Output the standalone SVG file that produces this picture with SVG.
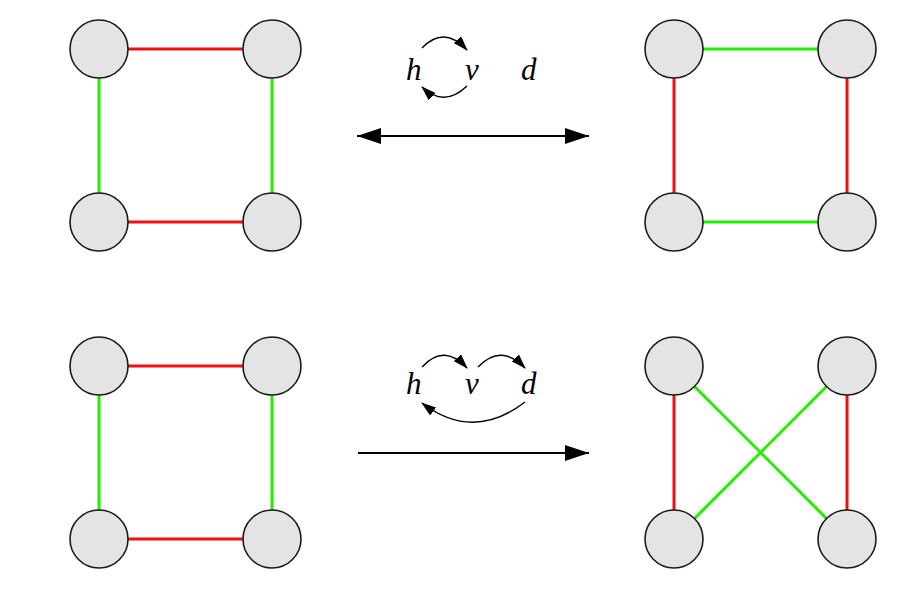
<svg xmlns="http://www.w3.org/2000/svg" width="920" height="596" viewBox="0 0 920 596">
<style>
.n{fill:#e4e4e4;stroke:#1a1a1a;stroke-width:1.6}
.r{stroke:#f01010;stroke-width:3;fill:none}
.g{stroke:#22ee00;stroke-width:3;fill:none}
.big{stroke:#000;stroke-width:2.2;fill:none}
.arc{stroke:#000;stroke-width:1.4;fill:none}
.t{font-family:"Liberation Serif",serif;font-style:italic;font-size:31px;fill:#000}
</style>
<defs>
<marker id="ah" markerUnits="userSpaceOnUse" markerWidth="24" markerHeight="16" refX="24" refY="8" orient="auto-start-reverse"><path d="M0,0 L24,8 L0,16 z" fill="#000"/></marker>
<marker id="sa" markerUnits="userSpaceOnUse" markerWidth="15" markerHeight="10" refX="14" refY="5" orient="auto"><path d="M0,0 L15,5 L0,10 z" fill="#000"/></marker>
</defs>
<rect width="920" height="596" fill="#fff"/>
<g id="connectors">
<line class="r" x1="99" y1="49" x2="272" y2="49"/>
<line class="r" x1="99" y1="222" x2="272" y2="222"/>
<line class="g" x1="99" y1="49" x2="99" y2="222"/>
<line class="g" x1="272" y1="49" x2="272" y2="222"/>
<line class="g" x1="674" y1="49" x2="847" y2="49"/>
<line class="g" x1="674" y1="222" x2="847" y2="222"/>
<line class="r" x1="674" y1="49" x2="674" y2="222"/>
<line class="r" x1="847" y1="49" x2="847" y2="222"/>
<line class="r" x1="99" y1="366" x2="272" y2="366"/>
<line class="r" x1="99" y1="539" x2="272" y2="539"/>
<line class="g" x1="99" y1="366" x2="99" y2="539"/>
<line class="g" x1="272" y1="366" x2="272" y2="539"/>
<line class="r" x1="674" y1="366" x2="674" y2="539"/>
<line class="r" x1="847" y1="366" x2="847" y2="539"/>
<line class="g" x1="674" y1="366" x2="847" y2="539"/>
<line class="g" x1="847" y1="366" x2="674" y2="539"/>
<line class="big" x1="357" y1="136" x2="589" y2="136" marker-start="url(#ah)" marker-end="url(#ah)"/>
<line class="big" x1="358" y1="453" x2="589" y2="453" marker-end="url(#ah)"/>
<path class="arc" d="M422 48 Q444 25 467 50" marker-end="url(#sa)"/>
<path class="arc" d="M467 86 Q444 108 422 87" marker-end="url(#sa)"/>
<path class="arc" d="M422 367 Q444 343 467 368" marker-end="url(#sa)"/>
<path class="arc" d="M478 367 Q501 343 525 368" marker-end="url(#sa)"/>
<path class="arc" d="M525 402 Q473 442 422 403" marker-end="url(#sa)"/>
</g>
<g id="labels">
<text class="t" x="406" y="80">h</text>
<text class="t" x="465" y="80">v</text>
<text class="t" x="521" y="80">d</text>
<text class="t" x="406" y="394">h</text>
<text class="t" x="465" y="394">v</text>
<text class="t" x="521" y="394">d</text>
</g>
<g id="n1"><circle class="n" cx="99" cy="49" r="29"/></g>
<g id="n2"><circle class="n" cx="272" cy="49" r="29"/></g>
<g id="n3"><circle class="n" cx="99" cy="222" r="29"/></g>
<g id="n4"><circle class="n" cx="272" cy="222" r="29"/></g>
<g id="n5"><circle class="n" cx="674" cy="49" r="29"/></g>
<g id="n6"><circle class="n" cx="847" cy="49" r="29"/></g>
<g id="n7"><circle class="n" cx="674" cy="222" r="29"/></g>
<g id="n8"><circle class="n" cx="847" cy="222" r="29"/></g>
<g id="n9"><circle class="n" cx="99" cy="366" r="29"/></g>
<g id="n10"><circle class="n" cx="272" cy="366" r="29"/></g>
<g id="n11"><circle class="n" cx="99" cy="539" r="29"/></g>
<g id="n12"><circle class="n" cx="272" cy="539" r="29"/></g>
<g id="n13"><circle class="n" cx="674" cy="366" r="29"/></g>
<g id="n14"><circle class="n" cx="847" cy="366" r="29"/></g>
<g id="n15"><circle class="n" cx="674" cy="539" r="29"/></g>
<g id="n16"><circle class="n" cx="847" cy="539" r="29"/></g>
</svg>
